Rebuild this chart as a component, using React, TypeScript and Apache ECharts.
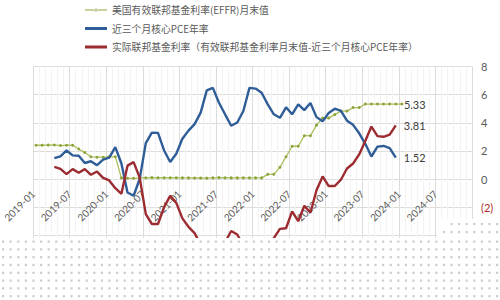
import React, { useEffect, useRef } from "react";
import * as echarts from "echarts";

// Month index 0 = 2019-01 ... 72 = 2025-01
const tickStartYear = 2019;

// EFFR month-end (2019-01 .. 2024-01)
const effr: number[] = [
  2.40, 2.40, 2.41, 2.42, 2.38, 2.40, 2.40,
  2.13, 1.88, 1.58, 1.55, 1.55, 1.58, 1.58,
  0.08, 0.05, 0.05, 0.08, 0.09, 0.10, 0.09, 0.09, 0.09, 0.09,
  0.08, 0.08, 0.07, 0.07, 0.06, 0.08, 0.10, 0.09, 0.08, 0.08, 0.08, 0.08,
  0.08, 0.08, 0.33, 0.33, 0.83, 1.58, 2.33, 2.33, 3.08, 3.08, 3.83, 4.33,
  4.33, 4.58, 4.83, 4.83, 5.08, 5.08, 5.33, 5.33, 5.33, 5.33, 5.33, 5.33,
  5.33,
];

// 3-month annualized core PCE (2019-01 .. 2023-12)
const corePce: (number | null)[] = [
  null, null, null,
  1.49, 1.61, 2.03, 1.68, 1.65, 1.14, 1.26, 0.98, 1.38, 1.52, 2.27, 1.1,
  -0.96, -1.19, 0.0, 2.55, 3.3, 3.28, 2.03, 1.21, 1.8, 2.86, 3.44, 3.9,
  4.72, 6.3, 6.48, 5.42, 4.6, 3.79, 4.02, 4.84, 6.48, 6.43, 6.13, 5.31,
  4.6, 4.35, 5.1, 4.6, 5.3, 4.9, 5.4, 4.4, 4.1, 4.7, 5.0, 4.85, 4.15,
  3.85, 3.25, 2.5, 1.6, 2.3, 2.35, 2.2, 1.52,
];

// Real fed funds rate (2019-01 .. 2023-12)
const realRate: (number | null)[] = [
  null, null, null,
  0.86, 0.72, 0.35, 0.7, 0.45, 0.7, 0.3, 0.53, 0.08, -0.1, -0.65, -1.05,
  0.95, 1.2, 0.1, -2.5, -3.2, -3.2, -2.0, -1.2, -1.7, -2.8, -3.4, -3.85,
  -4.65, -6.25, -6.4, -5.3, -4.5, -3.7, -3.95, -4.75, -6.4, -6.35, -6.05,
  -4.98, -4.2, -3.55, -3.5, -2.3, -3.0, -1.9, -2.4, -0.8, 0.18, -0.5, -0.5,
  -0.05, 0.75, 1.1, 1.75, 2.7, 3.73, 3.05, 3.0, 3.15, 3.81,
];

const seriesNames = [
  "美国有效联邦基金利率(EFFR)月末值",
  "近三个月核心PCE年率",
  "实际联邦基金利率（有效联邦基金利率月末值-近三个月核心PCE年率）",
];

const yMin = -8;
const yMax = 8;
const gridTop = 66.5;
const gridBottom = 8.5;
const chartH = 300;

const toPoints = (arr: (number | null)[]) =>
  arr
    .map((v, i) => (v === null ? null : [i + 0.5, v]))
    .filter((p) => p !== null) as number[][];

function buildOverlay() {
  const els: any[] = [
    { type: "rect", shape: { x: 0, y: 238, width: 500, height: 62 }, style: { fill: "#ffffff" }, z: 100 },
    { type: "rect", shape: { x: 437, y: 219, width: 63, height: 20 }, style: { fill: "#ffffff" }, z: 100 },
  ];
  const rows: { y: number; x0: number }[] = [
    { y: 224, x0: 448 },
    { y: 232, x0: 440 },
  ];
  for (let y = 241.5; y < 300; y += 7.8) rows.push({ y, x0: 0 });
  for (const r of rows) {
    for (let x = 2; x < 500; x += 7.6) {
      if (x < r.x0) continue;
      els.push({
        type: "rect",
        shape: { x: x, y: r.y - 1, width: 2.2, height: 2.2 },
        style: { fill: "#cccccc" },
        z: 101,
        silent: true,
      });
    }
  }
  return els;
}

const lineIcon = "path://M0,0 L22,0 L22,3 L0,3 Z";
const dotLineIcon =
  "path://M0,4.4 L22,4.4 L22,5.6 L0,5.6 Z M9.5,5 A1.5,1.5 0 1,0 12.5,5 A1.5,1.5 0 1,0 9.5,5 Z";

export default function App() {
  const ref = useRef<HTMLDivElement>(null);
  useEffect(() => {
    document.body.style.margin = "0";
    const chart = echarts.init(ref.current!, undefined, { renderer: "svg" });
    const axisFont = "Lato, 'Liberation Sans', sans-serif";
    const plotH = chartH - gridTop - gridBottom;
    const zeroOffset = -(plotH * (0 - yMin)) / (yMax - yMin);
    chart.setOption({
      animation: false,
      backgroundColor: "#ffffff",
      grid: {
        left: 33,
        right: 28,
        top: gridTop,
        bottom: gridBottom,
        containLabel: false,
        outerBoundsMode: "none",
      },
      legend: {
        orient: "vertical",
        left: 85,
        top: 3.5,
        padding: 0,
        itemWidth: 22,
        itemHeight: 10,
        itemGap: 5.5,
        itemStyle: { borderWidth: 0 },
        lineStyle: { width: 0 },
        data: [
          { name: seriesNames[0], icon: dotLineIcon },
          { name: seriesNames[1], icon: lineIcon },
          { name: seriesNames[2], icon: lineIcon },
        ],
        textStyle: {
          fontFamily: "'Noto Sans CJK SC', sans-serif",
          fontSize: 9.8,
          color: "#595959",
          lineHeight: 13,
        },
      },
      xAxis: {
        type: "value",
        min: 0,
        max: 72,
        interval: 6,
        offset: zeroOffset,
        axisLine: { show: false, onZero: false },
        axisTick: { show: false },
        minorTick: { show: false, splitNumber: 6 },
        minorSplitLine: { show: true, lineStyle: { color: "#f3f3f3", width: 1 } },
        splitLine: { show: true, lineStyle: { color: "#dcdcdc", width: 1 } },
        axisLabel: {
          rotate: 45,
          margin: 13,
          fontSize: 10,
          color: "#595959",
          fontFamily: axisFont,
          showMinLabel: true,
          showMaxLabel: true,
          formatter: (v: number) => {
            if (v >= 72) return "";
            const y = tickStartYear + Math.floor(v / 12);
            const m = (v % 12) + 1;
            return `${y}-${m < 10 ? "0" + m : m}`;
          },
        },
      },
      yAxis: {
        type: "value",
        position: "right",
        min: yMin,
        max: yMax,
        interval: 2,
        axisLine: { show: false, onZero: false },
        axisTick: { show: false },
        splitLine: { show: true, lineStyle: { color: "#dcdcdc", width: 1 } },
        axisLabel: {
          margin: 9,
          fontSize: 11,
          color: "#595959",
          fontFamily: axisFont,
          formatter: (v: number) => (v < 0 ? `{neg|(${-v})}` : `${v}`),
          rich: {
            neg: { color: "#b22a2a", fontSize: 11, fontFamily: axisFont },
          },
        },
      },
      series: [
        {
          name: seriesNames[0],
          type: "line",
          data: toPoints(effr),
          symbol: "circle",
          symbolSize: 3,
          showSymbol: true,
          itemStyle: { color: "#8fa43f" },
          lineStyle: { color: "#a9c15e", width: 1.3 },
          z: 3,
          endLabel: {
            show: true,
            distance: 2,
            fontSize: 11,
            color: "#404040",
            fontFamily: axisFont,
            formatter: (p: any) => (p.value[1] as number).toFixed(2),
          },
        },
        {
          name: seriesNames[1],
          type: "line",
          data: toPoints(corePce),
          symbol: "none",
          itemStyle: { color: "#2f5d98" },
          lineStyle: { color: "#2f5d98", width: 2.4 },
          z: 4,
          endLabel: {
            show: true,
            distance: 8,
            fontSize: 11,
            color: "#404040",
            fontFamily: axisFont,
            formatter: (p: any) => (p.value[1] as number).toFixed(2),
          },
        },
        {
          name: seriesNames[2],
          type: "line",
          data: toPoints(realRate),
          symbol: "none",
          itemStyle: { color: "#9c2b32" },
          lineStyle: { color: "#9c2b32", width: 2.4 },
          z: 5,
          endLabel: {
            show: true,
            distance: 8,
            fontSize: 11,
            color: "#404040",
            fontFamily: axisFont,
            formatter: (p: any) => (p.value[1] as number).toFixed(2),
          },
        },
      ],
      graphic: { elements: buildOverlay() },
    });
    return () => chart.dispose();
  }, []);
  return <div ref={ref} style={{ width: 500, height: 300 }} />;
}
